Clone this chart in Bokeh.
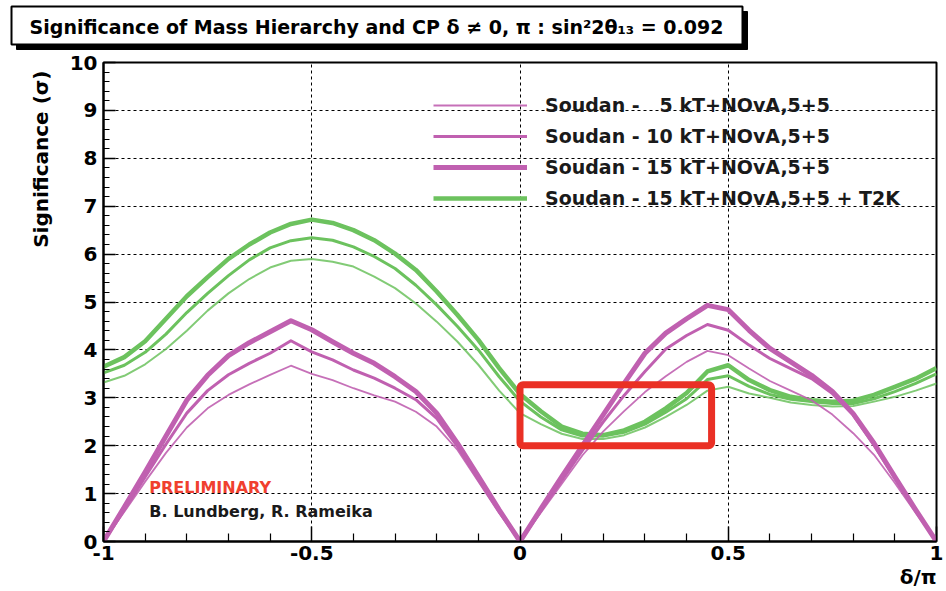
from bokeh.plotting import figure
from bokeh.layouts import column
from bokeh.models import (Range1d, FixedTicker, Label, BoxAnnotation, Legend,
                          LegendItem, PrintfTickFormatter, Title)
from bokeh.core.properties import value
from bokeh.embed import file_html
from bokeh.resources import INLINE

# ---------------- data ----------------
delta = [-1.00, -0.95, -0.90, -0.85, -0.80, -0.75, -0.70, -0.65, -0.60, -0.55,
         -0.50, -0.45, -0.40, -0.35, -0.30, -0.25, -0.20, -0.15, -0.10, -0.05,
         0.00, 0.05, 0.10, 0.15, 0.20, 0.25, 0.30, 0.35, 0.40, 0.45,
         0.50, 0.55, 0.60, 0.65, 0.70, 0.75, 0.80, 0.85, 0.90, 0.95, 1.00]

soudan5 = [0.00, 0.62, 1.25, 1.85, 2.38, 2.78, 3.06, 3.28, 3.48, 3.67,
           3.50, 3.37, 3.20, 3.05, 2.92, 2.71, 2.40, 1.91, 1.25, 0.59,
           0.00, 0.60, 1.20, 1.80, 2.30, 2.72, 3.12, 3.45, 3.75, 3.98,
           3.89, 3.61, 3.35, 3.15, 2.95, 2.65, 2.26, 1.81, 1.22, 0.60, 0.00]

soudan10 = [0.00, 0.66, 1.35, 2.03, 2.68, 3.15, 3.48, 3.72, 3.93, 4.19,
            3.96, 3.79, 3.58, 3.41, 3.20, 2.96, 2.57, 1.98, 1.29, 0.63,
            0.00, 0.64, 1.27, 1.90, 2.50, 3.05, 3.55, 4.02, 4.30, 4.53,
            4.41, 4.10, 3.82, 3.61, 3.40, 3.09, 2.64, 2.01, 1.32, 0.65, 0.00]

soudan15 = [0.00, 0.72, 1.45, 2.20, 2.95, 3.47, 3.88, 4.15, 4.38, 4.61,
            4.42, 4.17, 3.93, 3.72, 3.44, 3.13, 2.68, 2.05, 1.36, 0.66,
            0.00, 0.68, 1.35, 2.00, 2.65, 3.30, 3.93, 4.35, 4.65, 4.93,
            4.84, 4.41, 4.03, 3.75, 3.47, 3.13, 2.67, 2.05, 1.35, 0.66, 0.00]

t2k5 = [3.32, 3.46, 3.70, 4.02, 4.40, 4.82, 5.18, 5.48, 5.72, 5.86,
        5.90, 5.84, 5.74, 5.53, 5.29, 4.97, 4.59, 4.17, 3.69, 3.15,
        2.68, 2.45, 2.25, 2.14, 2.14, 2.22, 2.38, 2.60, 2.85, 3.15,
        3.23, 3.09, 3.00, 2.90, 2.85, 2.82, 2.83, 2.92, 3.02, 3.15, 3.30]

t2k10 = [3.52, 3.68, 3.95, 4.33, 4.78, 5.18, 5.55, 5.88, 6.13, 6.28,
         6.34, 6.29, 6.15, 5.95, 5.70, 5.35, 4.94, 4.49, 4.00, 3.44,
         2.93, 2.60, 2.33, 2.20, 2.20, 2.28, 2.45, 2.70, 2.98, 3.38,
         3.46, 3.24, 3.07, 2.97, 2.92, 2.88, 2.88, 2.98, 3.13, 3.30, 3.50]

t2k15 = [3.65, 3.85, 4.18, 4.65, 5.12, 5.52, 5.90, 6.20, 6.45, 6.63,
         6.72, 6.65, 6.50, 6.29, 6.01, 5.67, 5.22, 4.73, 4.21, 3.62,
         3.08, 2.72, 2.40, 2.25, 2.22, 2.32, 2.50, 2.78, 3.10, 3.55,
         3.68, 3.37, 3.16, 3.02, 2.95, 2.92, 2.94, 3.06, 3.23, 3.40, 3.62]

legend_labels = ["Soudan -   5 kT+NOvA,5+5",
                 "Soudan - 10 kT+NOvA,5+5",
                 "Soudan - 15 kT+NOvA,5+5",
                 "Soudan - 15 kT+NOvA,5+5 + T2K"]

x_major = [-1.0, -0.5, 0.0, 0.5, 1.0]
x_minor = [-0.9, -0.8, -0.7, -0.6, -0.4, -0.3, -0.2, -0.1,
           0.1, 0.2, 0.3, 0.4, 0.6, 0.7, 0.8, 0.9]
y_major = [0, 1, 2, 3, 4, 5, 6, 7, 8, 9, 10]
y_minor = [round(i * 0.2, 1) for i in range(51) if i % 5 != 0]

highlight = dict(left=0.0, right=0.46, bottom=2.0, top=3.27)

title_text = "Significance of Mass Hierarchy and CP \u03b4 \u2260 0, \u03c0 : sin\u00b22\u03b8\u2081\u2083 = 0.092"
y_title = "Significance (\u03c3)"
x_title = "\u03b4/\u03c0"

# ---------------- styling ----------------
FONT = "DejaVu Sans"
MAG = "#c060b0"
GRN = "#6cc25e"
RED = "#ea3025"
W, H, HEAD, TOP = 946, 591, 52, 10

# ---- header with boxed title (pixel layout of the decoration) ----
hdr = figure(width=W, height=HEAD, output_backend="svg", toolbar_location=None,
             x_range=Range1d(0, W), y_range=Range1d(HEAD, 0),
             x_axis_type=None, y_axis_type=None, min_border=0)
hdr.frame_align = False
hdr.outline_line_color = None
hdr.grid.visible = False
hdr.background_fill_color = "white"
hdr.border_fill_color = "white"
box_l, box_r, box_t, box_b, sh = 11, 742, 6, 44, 5
hdr.quad(left=[box_l + sh], right=[box_r + sh], top=[box_t + sh], bottom=[box_b + sh],
         fill_color="black", line_color="black")
hdr.quad(left=[box_l], right=[box_r], top=[box_t], bottom=[box_b],
         fill_color="white", line_color="black", line_width=2)
hdr.text(x=[376], y=[(box_t + box_b) / 2 + 1], text=[title_text],
         text_align="center", text_baseline="middle", text_font=value(FONT),
         text_font_style="bold", text_font_size="19px", text_color="black")

# ---- main plot ----
p = figure(width=W, height=H - HEAD, output_backend="svg", toolbar_location=None,
           x_range=Range1d(-1, 1), y_range=Range1d(0, 10),
           min_border_left=103, min_border_right=10,
           min_border_top=TOP, min_border_bottom=50)
p.frame_align = False
p.background_fill_color = "white"
p.border_fill_color = "white"
p.outline_line_color = "black"
p.outline_line_width = 2

for ax in (p.xaxis[0], p.yaxis[0]):
    ax.axis_line_color = "black"
    ax.axis_line_width = 2
    ax.major_tick_out = 0
    ax.minor_tick_out = 0
    ax.major_tick_line_color = "black"
    ax.minor_tick_line_color = "black"
    ax.major_tick_line_width = 1.5
    ax.minor_tick_line_width = 1.2
    ax.major_label_text_font = FONT
    ax.major_label_text_font_style = "bold"
    ax.major_label_text_font_size = "20px"
    ax.major_label_text_color = "black"
    ax.major_label_standoff = 4

p.xaxis.ticker = FixedTicker(ticks=x_major, minor_ticks=x_minor)
p.xaxis.formatter = PrintfTickFormatter(format="%g")
p.xaxis.major_tick_in = 15
p.xaxis.minor_tick_in = 8
p.yaxis.ticker = FixedTicker(ticks=y_major, minor_ticks=y_minor)
p.yaxis.major_tick_in = 12
p.yaxis.minor_tick_in = 6
p.yaxis.major_label_standoff = 6

# axis titles, placed at the far end of each axis (ROOT style)
ytitle = Title(text=y_title, align="right", standoff=28, offset=8,
               text_font=FONT, text_font_style="bold", text_font_size="20px",
               text_color="black")
xtitle = Title(text=x_title, align="right", standoff=0,
               text_font=FONT, text_font_style="bold", text_font_size="20px",
               text_color="black")
p.add_layout(ytitle, "left")
p.add_layout(xtitle, "below")

p.xgrid.ticker = FixedTicker(ticks=[-0.5, 0.0, 0.5])
p.ygrid.ticker = FixedTicker(ticks=y_major[1:-1])
for g in (p.xgrid[0], p.ygrid[0]):
    g.grid_line_color = "black"
    g.grid_line_dash = "3 3"
    g.grid_line_width = 1

# curves
rg5 = p.line(delta, t2k5, line_color=GRN, line_width=2.0, line_alpha=0.85, line_join="round")
rg10 = p.line(delta, t2k10, line_color=GRN, line_width=3.0, line_join="round")
rg15 = p.line(delta, t2k15, line_color=GRN, line_width=4.5, line_join="round")
rm5 = p.line(delta, soudan5, line_color=MAG, line_width=1.8, line_alpha=0.9, line_join="round")
rm10 = p.line(delta, soudan10, line_color=MAG, line_width=3.0, line_join="round")
rm15 = p.line(delta, soudan15, line_color=MAG, line_width=5.0, line_join="round")

legend = Legend(items=[LegendItem(label=legend_labels[0], renderers=[rm5]),
                       LegendItem(label=legend_labels[1], renderers=[rm10]),
                       LegendItem(label=legend_labels[2], renderers=[rm15]),
                       LegendItem(label=legend_labels[3], renderers=[rg15])],
                location=(330, 330))
legend.glyph_width = 94
legend.glyph_height = 26
legend.label_height = 26
legend.label_standoff = 18
legend.spacing = 5
legend.padding = 0
legend.margin = 0
legend.background_fill_alpha = 0
legend.border_line_alpha = 0
legend.label_text_font = FONT
legend.label_text_font_style = "bold"
legend.label_text_font_size = "19px"
legend.label_text_color = "#1a1a1a"
p.add_layout(legend)

box = BoxAnnotation(left=highlight["left"], right=highlight["right"],
                    bottom=highlight["bottom"], top=highlight["top"],
                    fill_alpha=0, line_color=RED, line_alpha=1.0, line_width=7,
                    border_radius=3)
p.add_layout(box)

prelim = Label(x=-0.89, y=1.13, text="PRELIMINARY", text_align="left",
               text_baseline="middle", text_font=FONT, text_font_style="bold",
               text_font_size="16px", text_color="#f0402e")
authors = Label(x=-0.89, y=0.63, text="B. Lundberg, R. Rameika", text_align="left",
                text_baseline="middle", text_font=FONT, text_font_style="bold",
                text_font_size="16px", text_color="#1a1a1a")
p.add_layout(prelim)
p.add_layout(authors)

layout = column(hdr, p, spacing=0)
open("out.html", "w").write(file_html(layout, INLINE))
